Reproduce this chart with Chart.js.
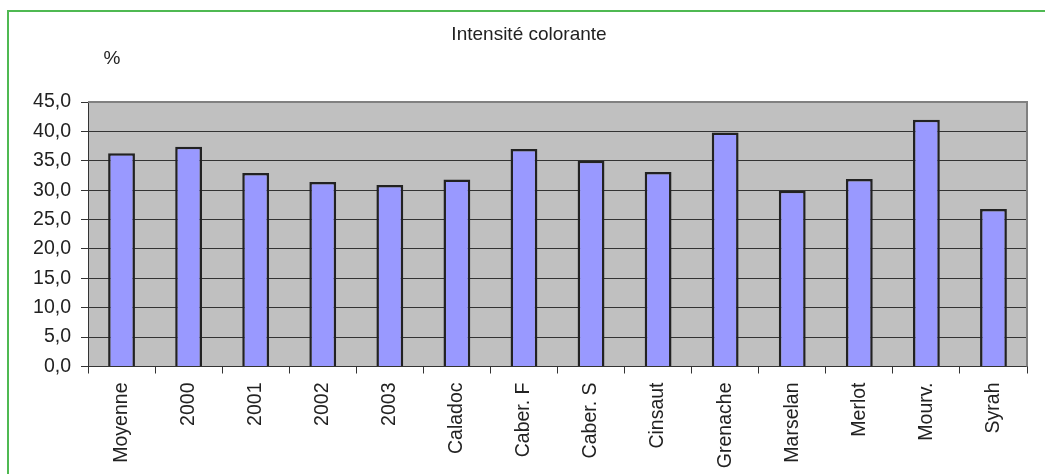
<!DOCTYPE html>
<html>
<head>
<meta charset="utf-8">
<script src="https://cdn.jsdelivr.net/npm/chart.js@4.4.1/dist/chart.umd.min.js"></script>
<style>
  html, body { margin: 0; padding: 0; background: #fff; }
  #wrap { width: 1045px; height: 474px; position: relative; }
</style>
</head>
<body>
<div id="wrap"><canvas id="chart" width="1045" height="474"></canvas></div>
<script>
// data
var categories = ["Moyenne", "2000", "2001", "2002", "2003", "Caladoc", "Caber. F", "Caber. S", "Cinsaut", "Grenache", "Marselan", "Merlot", "Mourv.", "Syrah"];
var values = [36.3, 37.4, 32.9, 31.4, 30.9, 31.8, 37.0, 35.0, 33.1, 39.8, 29.9, 31.9, 42.0, 26.8];
var yTicks = [0, 5, 10, 15, 20, 25, 30, 35, 40, 45];

var fontFamily = "'Liberation Sans', Arial, sans-serif";

// gray plot background, green frame, title and unit
var decorations = {
    id: "decorations",
    beforeDraw: function(chart) {
        var ctx = chart.ctx;
        var area = chart.chartArea;
        ctx.save();
        ctx.fillStyle = "#ffffff";
        ctx.fillRect(0, 0, chart.width, chart.height);
        ctx.strokeStyle = "#4fb952";
        ctx.lineWidth = 2;
        ctx.strokeRect(8, 11, 1100, 500);
        ctx.fillStyle = "#c0c0c0";
        ctx.fillRect(area.left, area.top, area.right - area.left, area.bottom - area.top);
        ctx.restore();
    },
    afterDraw: function(chart) {
        var ctx = chart.ctx;
        var area = chart.chartArea;
        ctx.save();
        ctx.strokeStyle = "#808080";
        ctx.lineWidth = 2;
        ctx.beginPath();
        ctx.moveTo(area.left, area.top);
        ctx.lineTo(area.right, area.top);
        ctx.lineTo(area.right, area.bottom);
        ctx.stroke();
        ctx.fillStyle = "#222";
        ctx.textAlign = "center";
        ctx.textBaseline = "alphabetic";
        ctx.font = "19px " + fontFamily;
        ctx.fillText("Intensité colorante", 529, 40);
        ctx.font = "19px " + fontFamily;
        ctx.fillText("%", 112, 64);
        ctx.restore();
    }
};

var ctx = document.getElementById("chart").getContext("2d");
var barChart = new Chart(ctx, {
    type: "bar",
    plugins: [decorations],
    data: {
        labels: categories,
        datasets: [{
            data: values,
            backgroundColor: "#9999ff",
            borderColor: "#222222",
            borderWidth: 2.5,
            borderSkipped: "bottom",
            barPercentage: 0.4,
            categoryPercentage: 1.0
        }]
    },
    options: {
        responsive: false,
        animation: false,
        devicePixelRatio: 1,
        layout: {
            padding: { left: 0, top: 102, right: 18, bottom: 0 }
        },
        plugins: {
            legend: { display: false },
            tooltip: { enabled: false },
            title: { display: false }
        },
        scales: {
            x: {
                offset: true,
                grid: {
                    offset: true,
                    drawOnChartArea: false,
                    drawTicks: true,
                    tickLength: 7,
                    color: "#333",
                    lineWidth: 1
                },
                border: { display: true, color: "#333", width: 1 },
                ticks: {
                    autoSkip: false,
                    maxRotation: 90,
                    minRotation: 90,
                    padding: 9,
                    color: "#222",
                    font: { family: fontFamily, size: 19.5 }
                },
                afterFit: function(scale) { scale.height = 107.5; }
            },
            y: {
                min: 0,
                max: 45,
                afterBuildTicks: function(scale) {
                    scale.ticks = yTicks.map(function(v) { return { value: v }; });
                },
                grid: {
                    color: "#333",
                    lineWidth: 1,
                    tickLength: 7,
                    drawTicks: true
                },
                border: { display: true, color: "#333", width: 1 },
                ticks: {
                    padding: 10,
                    color: "#222",
                    font: { family: fontFamily, size: 19.5 },
                    callback: function(value) { return value.toFixed(1).replace(".", ","); }
                },
                afterFit: function(scale) { scale.width = 88; }
            }
        }
    }
});
</script>
</body>
</html>
